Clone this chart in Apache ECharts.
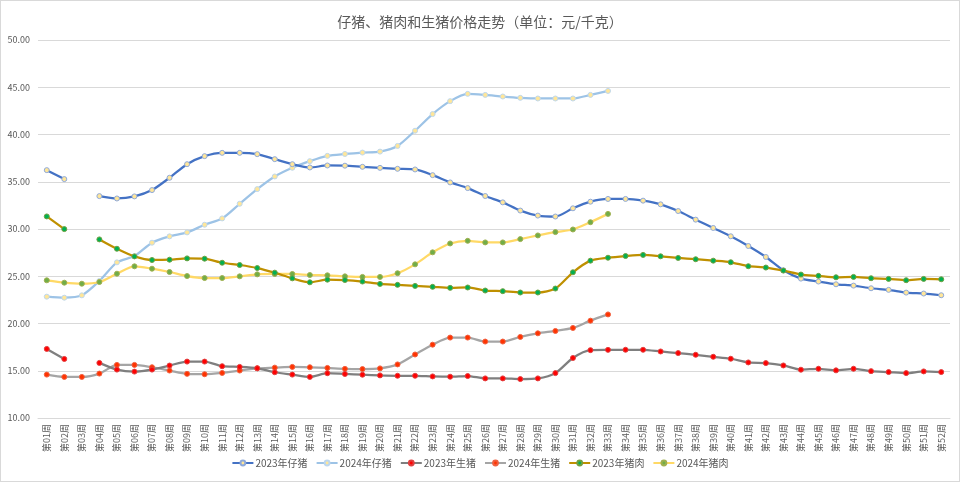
<!DOCTYPE html>
<html><head><meta charset="utf-8">
<script src="https://cdn.jsdelivr.net/npm/echarts@6/dist/echarts.min.js"></script>
<style>html,body{margin:0;padding:0;background:#fff}#c{width:958px;height:480px;border:1px solid #d9d9d9}</style>
</head><body><div id="c"></div>
<script>
const weeks = [];
for (let i = 1; i <= 52; i++) weeks.push('第' + String(i).padStart(2, '0') + '周');
const piglet2023 = [36.23,35.28,null,33.48,33.23,33.45,34.12,35.42,36.86,37.71,38.06,38.06,37.92,37.39,36.86,36.51,36.72,36.70,36.58,36.47,36.37,36.30,35.70,34.93,34.33,33.49,32.82,31.95,31.42,31.32,32.19,32.89,33.18,33.18,33.0,32.61,31.90,30.99,30.11,29.23,28.20,27.04,25.63,24.75,24.44,24.15,24.01,23.73,23.56,23.27,23.17,22.99];
const piglet2024 = [22.84,22.73,22.98,24.5,26.47,27.14,28.55,29.22,29.64,30.45,31.12,32.67,34.22,35.56,36.48,37.18,37.74,37.94,38.09,38.19,38.79,40.40,42.16,43.53,44.30,44.19,44.02,43.88,43.81,43.81,43.81,44.19,44.61];
const hog2023 = [17.31,16.25,null,15.83,15.12,14.91,15.12,15.55,15.97,15.97,15.48,15.41,15.26,14.84,14.59,14.35,14.74,14.66,14.58,14.51,14.47,14.47,14.40,14.37,14.44,14.19,14.19,14.12,14.19,14.75,16.35,17.18,17.21,17.22,17.22,17.04,16.87,16.69,16.48,16.27,15.88,15.81,15.56,15.11,15.21,15.04,15.21,14.96,14.86,14.75,14.93,14.86];
const hog2024 = [14.59,14.35,14.35,14.70,15.62,15.62,15.37,15.02,14.67,14.63,14.77,15.02,15.26,15.33,15.41,15.37,15.30,15.20,15.18,15.25,15.67,16.72,17.76,18.51,18.51,18.09,18.09,18.58,18.96,19.21,19.53,20.30,20.96];
const pork2023 = [31.33,29.99,null,28.90,27.91,27.10,26.72,26.75,26.89,26.86,26.43,26.19,25.87,25.38,24.78,24.36,24.64,24.60,24.44,24.19,24.09,23.98,23.88,23.77,23.81,23.49,23.42,23.28,23.28,23.70,25.42,26.65,26.96,27.14,27.26,27.11,26.94,26.80,26.65,26.48,26.06,25.92,25.60,25.18,25.04,24.89,24.93,24.79,24.72,24.58,24.72,24.68];
const pork2024 = [24.57,24.32,24.21,24.39,25.27,26.05,25.80,25.45,25.02,24.81,24.81,24.99,25.20,25.24,25.24,25.13,25.10,24.99,24.93,24.93,25.32,26.26,27.53,28.47,28.75,28.58,28.58,28.93,29.32,29.67,29.95,30.72,31.60];
const seriesNames = ['2023年仔猪','2024年仔猪','2023年生猪','2024年生猪','2023年猪肉','2024年猪肉'];
const yTicks = {min:10, max:50, interval:5};

const styles = [
  {line:'#4472C4', fill:'#FFE699', border:'#8EA9DB'},
  {line:'#9DC3E6', fill:'#FFE699', border:'#BDD7EE'},
  {line:'#7F7F7F', fill:'#FF0000', border:'#E04040'},
  {line:'#A5A5A5', fill:'#FF3300', border:'#F06040'},
  {line:'#BF9000', fill:'#00B050', border:'#70A040'},
  {line:'#FFD966', fill:'#70AD47', border:'#A0B050'}
];
const datas = [piglet2023, piglet2024, hog2023, hog2024, pork2023, pork2024];
const font = '"Noto Sans CJK SC", "Noto Sans", sans-serif';
const chart = echarts.init(document.getElementById('c'));
chart.setOption({
  animation:false,
  title:{text:'仔猪、猪肉和生猪价格走势（单位：元/千克）', left:'center', top:9,
    textStyle:{fontSize:14, fontWeight:'normal', color:'#595959', fontFamily:font}},
  legend:{bottom:8, left:'center', itemWidth:21, itemHeight:6, itemGap:8,
    textStyle:{fontSize:10, color:'#595959', fontFamily:font, padding:[0,0,0,-3]}, data:seriesNames},
  grid:{left:37, right:9, top:39, bottom:63},
  xAxis:{type:'category', data:weeks, boundaryGap:true,
    axisLine:{lineStyle:{color:'#d9d9d9'}}, axisTick:{show:false},
    axisLabel:{rotate:90, fontSize:9, color:'#595959', interval:0, fontFamily:font, margin:6}},
  yAxis:{type:'value', min:yTicks.min, max:yTicks.max, interval:yTicks.interval,
    axisLine:{show:false}, axisTick:{show:false},
    splitLine:{lineStyle:{color:'#d9d9d9'}},
    axisLabel:{fontSize:9, color:'#595959', formatter:v=>v.toFixed(2), fontFamily:font, margin:8}},
  series: seriesNames.map((n,i)=>({
    name:n, type:'line', data:datas[i], smooth:0.25, connectNulls:false,
    symbol:'circle', symbolSize:5, showSymbol:true,
    lineStyle:{color:styles[i].line, width:2.25},
    itemStyle:{color:styles[i].fill, borderColor:styles[i].border, borderWidth:1},
    z: [3,2,5,4,7,6][i]
  }))
});
</script></body></html>
